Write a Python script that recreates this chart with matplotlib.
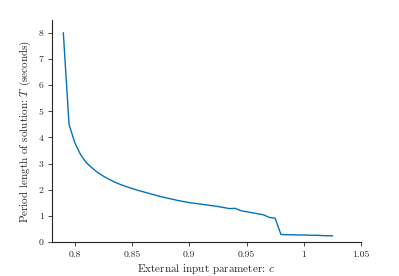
import numpy as np
import matplotlib
matplotlib.use("Agg")
import matplotlib.pyplot as plt

# 데이터
c_vals = [0.79, 0.795, 0.80, 0.805, 0.81, 0.815, 0.82, 0.825, 0.83, 0.835,
          0.84, 0.845, 0.85, 0.855, 0.86, 0.865, 0.87, 0.875, 0.88, 0.885,
          0.89, 0.895, 0.90, 0.905, 0.91, 0.915, 0.92, 0.925, 0.93, 0.935,
          0.94, 0.945, 0.95, 0.955, 0.96, 0.965, 0.97, 0.975, 0.98, 0.985,
          0.99, 0.995, 1.00, 1.005, 1.01, 1.015, 1.02, 1.025]
period = [8.0, 4.5, 3.8, 3.35, 3.04, 2.84, 2.66, 2.52, 2.40, 2.29,
          2.20, 2.12, 2.05, 1.98, 1.92, 1.86, 1.80, 1.74, 1.69, 1.64,
          1.59, 1.55, 1.51, 1.48, 1.45, 1.42, 1.39, 1.36, 1.32, 1.28,
          1.29, 1.20, 1.16, 1.12, 1.08, 1.04, 0.94, 0.91, 0.29, 0.28,
          0.28, 0.27, 0.27, 0.26, 0.26, 0.25, 0.24, 0.24]

x_ticks = [0.8, 0.85, 0.9, 0.95, 1.0, 1.05]
x_tick_labels = ["0.8", "0.85", "0.9", "0.95", "1", "1.05"]

plt.rcParams['font.family'] = 'serif'
plt.rcParams['font.serif'] = ['cmr10', 'DejaVu Serif']
plt.rcParams['mathtext.fontset'] = 'cm'
plt.rcParams['axes.unicode_minus'] = False

fig = plt.figure(figsize=(3.99, 2.76), dpi=100)
ax = fig.add_axes([0.130, 0.123, 0.775, 0.805])

ax.plot(c_vals, period, color='#0072BD', linewidth=1.0)

ax.set_xlim(0.78, 1.05)
ax.set_ylim(0, 8.5)
ax.set_xticks(x_ticks)
ax.set_xticklabels(x_tick_labels)
ax.set_yticks(range(0, 9))

ax.spines['top'].set_visible(False)
ax.spines['right'].set_visible(False)
for s in ['left', 'bottom']:
    ax.spines[s].set_color('#262626')
    ax.spines[s].set_linewidth(0.8)
ax.tick_params(labelsize=7, length=3, width=0.6, colors='#262626', pad=3)

ax.set_xlabel(r"External input parameter: $c$", fontsize=8, labelpad=2, color='#262626')
ax.set_ylabel(r"Period length of solution: $T$ (seconds)", fontsize=8, labelpad=4, color='#262626')

fig.savefig("out.png", dpi=100)
